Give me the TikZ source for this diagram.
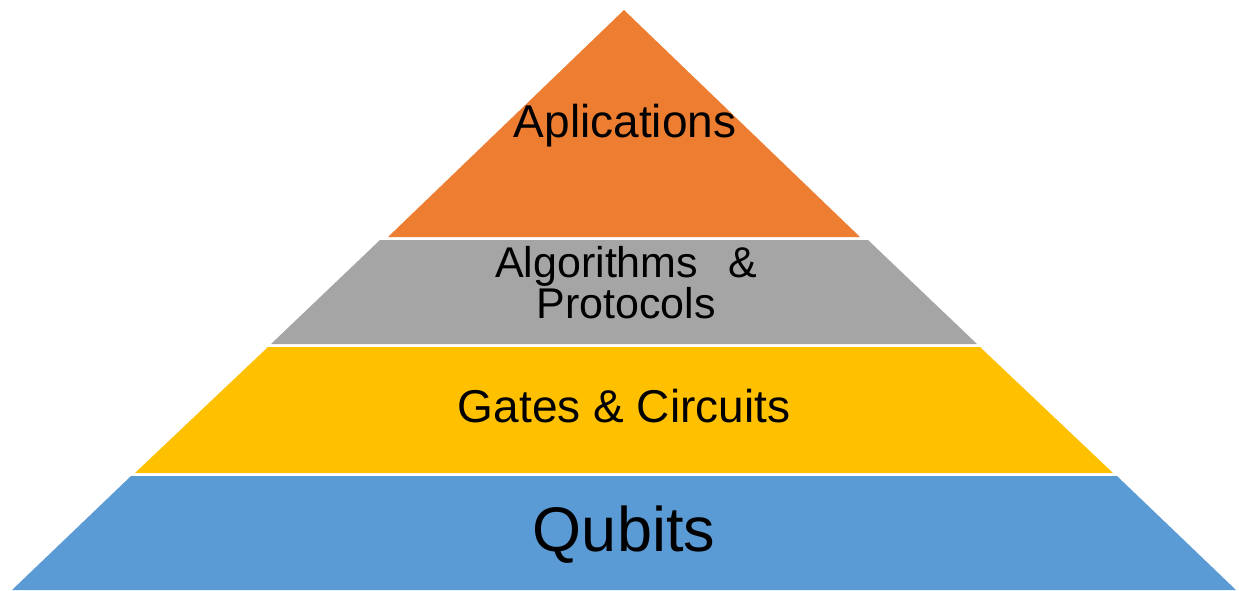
\documentclass[tikz,border=0pt]{standalone}
\usepackage{fontspec}
\setmainfont{Liberation Sans}

\definecolor{apporange}{HTML}{ED7D31}
\definecolor{alggray}{HTML}{A5A5A5}
\definecolor{gateyellow}{HTML}{FFC000}
\definecolor{qubitblue}{HTML}{5B9BD5}

\begin{document}
\begin{tikzpicture}[x=1pt,y=-1pt,
  label/.style={anchor=base,inner sep=0pt,text=black}]
\useasboundingbox (0,0) rectangle (1239,590);

% pyramid layers, top to bottom
\fill[apporange] (624,10) -- (860,237) -- (388,237) -- cycle;
\fill[alggray] (380,240) -- (868,240) -- (977,344) -- (271,344) -- cycle;
\fill[gateyellow] (268,347) -- (980,347) -- (1113,473) -- (135,473) -- cycle;
\fill[qubitblue] (131,476) -- (1117,476) -- (1236,590) -- (12,590) -- cycle;

% layer labels
\node[label,font=\fontsize{46}{50}\selectfont] (app) at (625,137) {Aplications};
\node[label,font=\fontsize{43}{48}\selectfont] (algo) at (626,277) {Algorithms\hspace{30pt}\&};
\node[label,font=\fontsize{43}{48}\selectfont] (proto) at (626,318) {Protocols};
\node[label,font=\fontsize{46}{50}\selectfont] (gates) at (624,422) {Gates \& Circuits};
\node[label,font=\fontsize{63}{70}\selectfont] (qubits) at (624,551) {Qubits};
\end{tikzpicture}
\end{document}
